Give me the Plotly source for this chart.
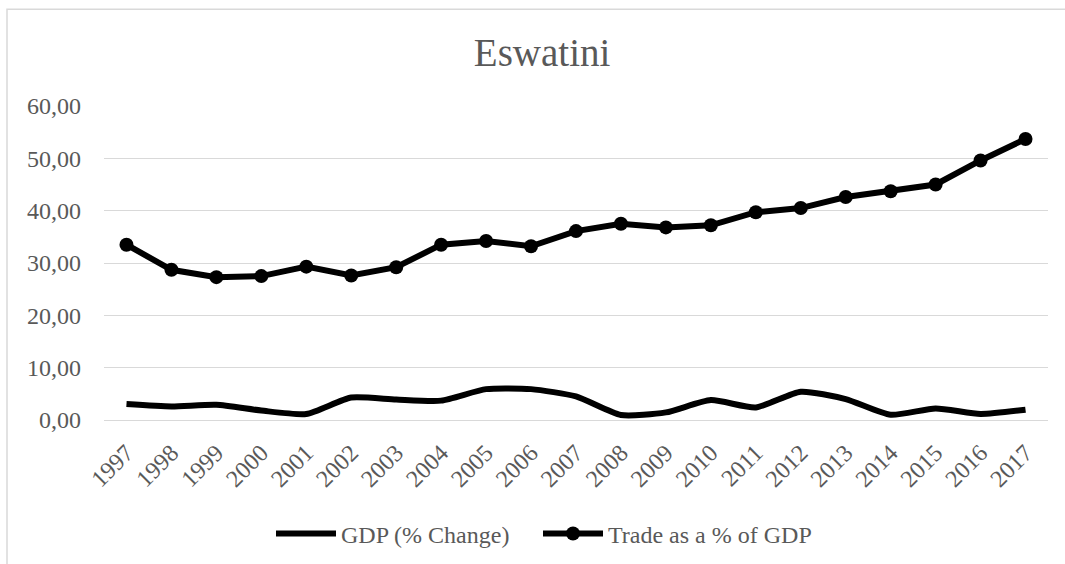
import plotly.graph_objects as go

years = [str(y) for y in range(1997, 2018)]
gdp_change = [3.06, 2.6, 2.9, 1.8, 1.15, 4.3, 3.9, 3.7, 5.9, 5.9, 4.5,
              0.95, 1.45, 3.8, 2.4, 5.4, 4.0, 1.0, 2.2, 1.15, 1.97]
trade_pct_gdp = [33.5, 28.7, 27.3, 27.5, 29.3, 27.6, 29.2, 33.5, 34.2, 33.2, 36.1,
                 37.5, 36.8, 37.2, 39.7, 40.5, 42.6, 43.7, 45.0, 49.6, 53.7]
y_ticks = [0, 10, 20, 30, 40, 50, 60]

FONT = "Liberation Serif"
GREY = "#595959"
GRID = "#d9d9d9"

fig = go.Figure()
fig.add_trace(go.Scatter(
    x=years, y=gdp_change, name="GDP (% Change)", mode="lines",
    line=dict(color="black", width=6, shape="spline", smoothing=0.6),
    legend="legend",
))
fig.add_trace(go.Scatter(
    x=years, y=trade_pct_gdp, name="Trade as a % of GDP", mode="lines+markers",
    line=dict(color="black", width=6),
    marker=dict(color="black", size=14),
    legend="legend2",
))

leg_common = dict(orientation="h", y=-0.3626, yanchor="middle", xanchor="left",
                  font=dict(family=FONT, size=24, color=GREY),
                  bgcolor="rgba(0,0,0,0)", itemwidth=60)

fig.update_layout(
    width=1065, height=564,
    margin=dict(l=104, r=17, t=106, b=144, autoexpand=False),
    paper_bgcolor="white", plot_bgcolor="white",
    separators=",.",
    font=dict(family=FONT, size=24, color=GREY),
    title=dict(text="Eswatini", x=0.509, xref="container", xanchor="center",
               y=0.908, yref="container", yanchor="middle",
               font=dict(family=FONT, size=39, color=GREY)),
    showlegend=True,
    legend=dict(x=(280 - 9 - 104) / 944, **leg_common),
    legend2=dict(x=(547 - 9 - 104) / 944, **leg_common),
    xaxis=dict(type="category", range=[-0.5, 20.5], tickangle=-45,
               showgrid=False, showline=False, zeroline=False, ticks="",
               ticklabelstandoff=13,
               tickfont=dict(family=FONT, size=24, color=GREY)),
    yaxis=dict(range=[0, 60], tickvals=y_ticks, tickformat=".2f",
               showgrid=True, gridcolor=GRID, gridwidth=1.3,
               zeroline=True, zerolinecolor=GRID, zerolinewidth=1.3,
               showline=False, ticks="", ticklabelstandoff=22,
               tickfont=dict(family=FONT, size=24, color=GREY)),
    shapes=[dict(type="rect", xref="paper", yref="paper",
                 x0=(7 - 104) / 944, x1=2.0, y0=-1.5, y1=(419.3 - 9) / 313.6,
                 line=dict(color=GRID, width=1.5), fillcolor="rgba(0,0,0,0)",
                 layer="below")],
)

fig.write_html("out.html")
